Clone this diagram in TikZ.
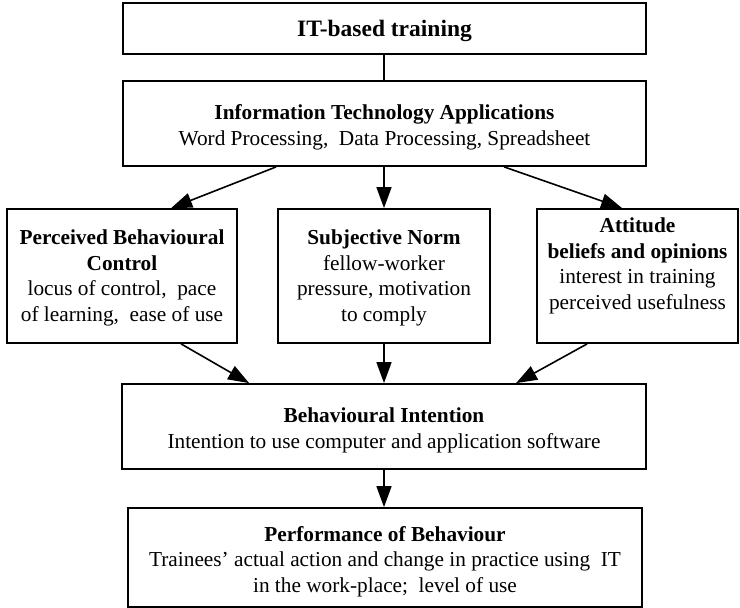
\documentclass[tikz,border=0pt]{standalone}
\usepackage{fontspec}
\setmainfont{Liberation Serif}
\usetikzlibrary{arrows.meta,calc}
\tikzset{
  box/.style={draw=black, line width=1.8pt, rectangle, inner sep=0pt},
  txt/.style={align=center, inner sep=0pt, font=\fontsize{21.3}{25.7}\selectfont},
  conn/.style={line width=1.8pt},
  arr/.style={line width=1.6pt, -{Triangle[length=21pt,width=15pt]}},
}
\begin{document}
\begin{tikzpicture}[x=1pt,y=-1pt]
\useasboundingbox (0,0) rectangle (740,608);
\node[box, minimum width=523pt, minimum height=51pt] (train) at (384.5,28.5) {};
\node[txt, font=\fontsize{23.5}{28}\selectfont\bfseries] (trainT) at ([yshift=-2pt]train.center) {IT-based training};
\node[box, minimum width=523pt, minimum height=85pt] (apps) at (384.5,123.5) {};
\node[txt] (appsT) at ([yshift=-4pt]apps.center)
  {\textbf{Information Technology Applications}\\Word Processing,\ \ Data Processing, Spreadsheet};
\node[box, minimum width=230pt, minimum height=134pt] (pbc) at (122,276) {};
\node[txt] (pbcT) at ([yshift=-2pt]pbc.center)
  {\textbf{Perceived Behavioural}\\\textbf{Control}\\locus of control,\ \ pace\\of learning,\ \ ease of use};
\node[box, minimum width=212pt, minimum height=134pt] (sn) at (384,276) {};
\node[txt] (snT) at ([yshift=-2pt]sn.center)
  {\textbf{Subjective Norm}\\fellow-worker\\pressure, motivation\\to comply};
\node[box, minimum width=201pt, minimum height=134pt] (att) at (637.5,276) {};
\node[txt] (attT) at ([yshift=10pt]att.center)
  {\textbf{Attitude}\\\textbf{beliefs and opinions}\\interest in training\\perceived usefulness};
\node[box, minimum width=524pt, minimum height=85pt] (bi) at (384,426.5) {};
\node[txt] (biT) at ([yshift=-4pt]bi.center)
  {\textbf{Behavioural Intention}\\Intention to use computer and application software};
\node[box, minimum width=514pt, minimum height=99pt] (pb) at (385,557.5) {};
\node[txt] (pbT) at ([yshift=-4pt]pb.center)
  {\textbf{Performance of Behaviour}\\Trainees' actual action and change in practice using\ \ IT\\in the work-place;\ \ level of use};
\draw[conn] (train.south -| sn.north) -- (apps.north -| sn.north);
\draw[arr] ($(apps.south west)+(154,0)$) -- ($(pbc.north west)+(165,0)$);
\draw[arr] (apps.south -| sn.north) -- (sn.north);
\draw[arr] ($(apps.south west)+(382,0)$) -- ($(att.north west)+(86,0)$);
\draw[arr] ($(pbc.south west)+(175,0)$) -- ($(bi.north west)+(128,0)$);
\draw[arr] (sn.south) -- (sn.south |- bi.north);
\draw[arr] ($(att.south west)+(51,0)$) -- ($(bi.north west)+(395,0)$);
\draw[arr] (bi.south -| sn.south) -- (pb.north -| sn.south);
\end{tikzpicture}
\end{document}
